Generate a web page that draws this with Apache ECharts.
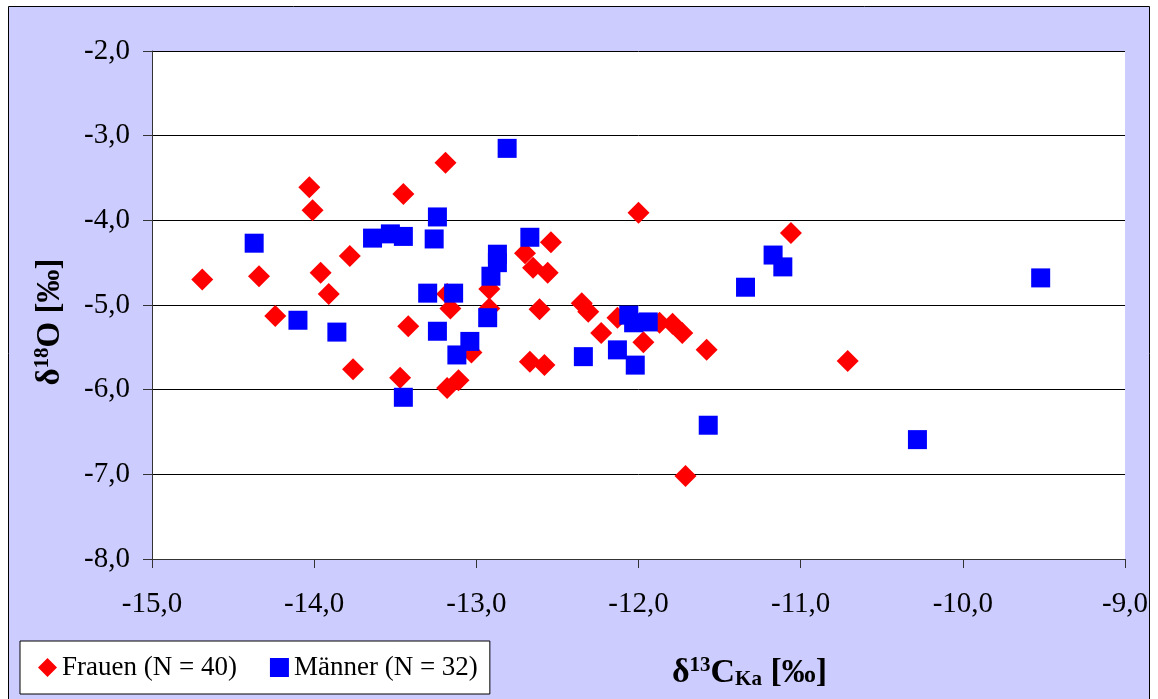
<!DOCTYPE html>
<html>
<head>
<meta charset="utf-8">
<script src="https://cdn.jsdelivr.net/npm/echarts@6/dist/echarts.min.js"></script>
<style>
  html, body { margin: 0; padding: 0; background: #fff; }
  #chart { width: 1158px; height: 699px; }
</style>
</head>
<body>
<div id="chart"></div>
<script>
// δ13C (x) und δ18O (y)
var frauenC13 = [-14.69, -14.34, -14.24, -14.03, -14.01, -13.96, -13.91, -13.78, -13.76, -13.47,
  -13.45, -13.42, -13.19, -13.18, -13.16, -13.18, -13.11, -13.03, -12.92, -12.92,
  -12.70, -12.54, -12.65, -12.56, -12.61, -12.67, -12.58, -12.00, -12.35, -12.31,
  -12.23, -12.13, -11.97, -11.87, -11.79, -11.73, -11.58, -11.06, -10.71, -11.71]
var frauenO18 = [-4.70, -4.66, -5.13, -3.61, -3.88, -4.62, -4.87, -4.42, -5.76, -5.86,
  -3.69, -5.25, -3.32, -5.98, -5.04, -4.87, -5.89, -5.56, -4.81, -5.04,
  -4.39, -4.26, -4.56, -4.62, -5.05, -5.67, -5.71, -3.91, -4.98, -5.08,
  -5.33, -5.15, -5.44, -5.21, -5.22, -5.33, -5.53, -4.15, -5.66, -7.02]

var maennerC13 = [-14.37, -14.10, -13.86, -13.64, -13.53, -13.45, -13.24, -13.26, -13.30, -13.14,
  -13.24, -13.04, -13.12, -13.45, -12.87, -12.87, -12.91, -12.93, -12.81, -12.67,
  -12.34, -12.13, -12.02, -12.06, -12.03, -11.94, -11.34, -11.17, -11.11, -11.57,
  -10.28, -9.52]
var maennerO18 = [-4.27, -5.18, -5.32, -4.21, -4.16, -4.19, -3.96, -4.22, -4.86, -4.86,
  -5.31, -5.43, -5.59, -6.09, -4.40, -4.50, -4.66, -5.15, -3.15, -4.20,
  -5.61, -5.53, -5.71, -5.12, -5.21, -5.20, -4.79, -4.41, -4.55, -6.42,
  -6.59, -4.68]

var seriesNames = ['Frauen (N = 40)', 'Männer (N = 32)']

function zip(xs, ys) {
  return xs.map(function (x, i) { return [x, ys[i]] })
}

function komma(v) {
  return v.toFixed(1).replace('.', ',')
}

var serif = '"Liberation Serif", "Times New Roman", serif'

var chart = echarts.init(document.getElementById('chart'))
var option = {
  animation: false,
  backgroundColor: '#fff',
  graphic: [
    {
      type: 'rect',
      z: -10,
      shape: { x: 8.5, y: 6.5, width: 1141, height: 720 },
      style: { fill: '#ccccff', stroke: '#000', lineWidth: 1 }
    },
    {
      type: 'rect',
      z: -9,
      shape: { x: 152, y: 51, width: 973, height: 508 },
      style: { fill: '#fff' }
    }
  ],
  grid: {
    left: 152,
    top: 51,
    right: 33,
    bottom: 140
  },
  legend: {
    orient: 'horizontal',
    left: 20,
    top: 641,
    padding: [13, 12, 13, 18],
    backgroundColor: '#fff',
    borderColor: '#000',
    borderWidth: 1,
    itemWidth: 19,
    itemHeight: 19,
    itemGap: 33,
    textStyle: { fontFamily: serif, fontSize: 27, color: '#000' },
    data: [
      { name: seriesNames[0], icon: 'diamond' },
      { name: seriesNames[1], icon: 'rect' }
    ]
  },
  xAxis: {
    type: 'value',
    min: -15,
    max: -9,
    interval: 1,
    name: '{b|δ}{sup|13}{b|C}{sub|Ka}{b| [‰]}',
    nameLocation: 'middle',
    nameGap: 96,
    nameTextStyle: {
      padding: [0, 0, 0, 222],
      rich: {
        b: { fontFamily: serif, fontSize: 34, fontWeight: 'bold', color: '#000' },
        sup: { fontFamily: serif, fontSize: 21, fontWeight: 'bold', color: '#000', padding: [0, 0, 15, 0] },
        sub: { fontFamily: serif, fontSize: 21, fontWeight: 'bold', color: '#000', padding: [13, 0, 0, 0] }
      }
    },
    axisLine: { onZero: false, lineStyle: { color: '#333', width: 1 } },
    axisTick: { inside: false, length: 9, lineStyle: { color: '#333' } },
    axisLabel: {
      margin: 31,
      fontFamily: serif,
      fontSize: 29,
      color: '#000',
      formatter: komma
    },
    splitLine: { show: false }
  },
  yAxis: {
    type: 'value',
    min: -8,
    max: -2,
    interval: 1,
    name: '{b|δ}{sup|18}{b|O [‰]}',
    nameLocation: 'middle',
    nameRotate: 90,
    nameGap: 84,
    nameTextStyle: {
      padding: [0, 34, 0, 0],
      rich: {
        b: { fontFamily: serif, fontSize: 33, fontWeight: 'bold', color: '#000' },
        sup: { fontFamily: serif, fontSize: 21, fontWeight: 'bold', color: '#000', padding: [0, 0, 15, 0] }
      }
    },
    axisLine: { onZero: false, lineStyle: { color: '#333', width: 1 } },
    axisTick: { inside: false, length: 9, lineStyle: { color: '#333' } },
    axisLabel: {
      margin: 22,
      fontFamily: serif,
      fontSize: 29,
      color: '#000',
      formatter: komma
    },
    splitLine: { show: true, lineStyle: { color: '#000', width: 1 } }
  },
  series: [
    {
      name: seriesNames[0],
      type: 'scatter',
      symbol: 'diamond',
      symbolSize: 22,
      itemStyle: { color: '#ff0000', opacity: 1 },
      data: zip(frauenC13, frauenO18),
      z: 2
    },
    {
      name: seriesNames[1],
      type: 'scatter',
      symbol: 'rect',
      symbolSize: 19,
      itemStyle: { color: '#0000ff', opacity: 1 },
      data: zip(maennerC13, maennerO18),
      z: 3
    }
  ]
}
chart.setOption(option)
</script>
</body>
</html>
